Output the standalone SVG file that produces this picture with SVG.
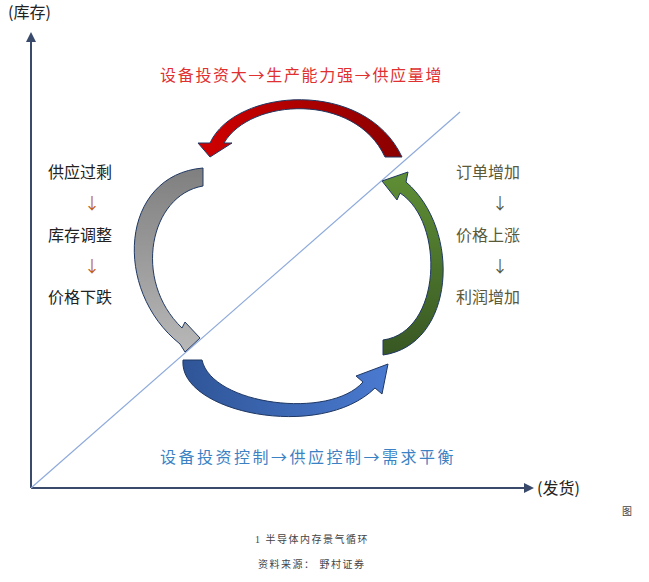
<svg xmlns="http://www.w3.org/2000/svg" width="649" height="582" viewBox="0 0 649 582">
<style>
.t{font-family:"Noto Sans CJK SC","Liberation Sans",sans-serif;font-size:16px}
.s{font-family:"Liberation Serif","Noto Sans CJK SC",serif;font-size:10px;fill:#444;letter-spacing:1.5px}
.arw{stroke:#1f3864;stroke-width:1}
</style>
<defs>
<linearGradient id="gr" x1="1" y1="0" x2="0" y2="0"><stop offset="0" stop-color="#8b0000"/><stop offset="1" stop-color="#d00000"/></linearGradient>
<linearGradient id="gg" x1="0" y1="0" x2="0" y2="1"><stop offset="0" stop-color="#7f7f7f"/><stop offset="1" stop-color="#b8b8b8"/></linearGradient>
<linearGradient id="gb" x1="0" y1="0" x2="1" y2="0"><stop offset="0" stop-color="#2f5597"/><stop offset="1" stop-color="#4a7ad0"/></linearGradient>
<linearGradient id="gn" x1="0" y1="1" x2="0" y2="0"><stop offset="0" stop-color="#385723"/><stop offset="1" stop-color="#5f8f35"/></linearGradient>
<marker id="ah" markerWidth="10" markerHeight="10" refX="8" refY="5" orient="auto" markerUnits="userSpaceOnUse"><path d="M0,0 L10,5 L0,10 Z" fill="#3a4a6b"/></marker>
</defs>
<rect width="649" height="582" fill="#fff"/>
<g id="connectors">
<line x1="31" y1="488" x2="31" y2="34" stroke="#3a4a6b" stroke-width="2" marker-end="url(#ah)"/>
<line x1="31" y1="488" x2="532" y2="488" stroke="#3a4a6b" stroke-width="2" marker-end="url(#ah)"/>
<line x1="31" y1="488" x2="460" y2="112" stroke="#8eaadb" stroke-width="1.2"/>
</g>
<g id="arrow-red"><path class="arw" fill="url(#gr)" d="M402,157 L385,157 C355,92 250,98 224,143 L232,143 L210,157 L198,143 L210,143 C235,88 365,78 402,157 Z"/></g>
<g id="arrow-gray"><path class="arw" fill="url(#gg)" d="M203,168 L203,186 C150,195 132,280 182,328 L185,322 L200,338 L185,352 L180,344 C112,290 120,175 203,168 Z"/></g>
<g id="arrow-blue"><path class="arw" fill="url(#gb)" d="M183,360 L202,360 C212,405 330,420 363,382 L356,376 L388,364 L382,394 L375,388 C320,442 178,412 183,360 Z"/></g>
<g id="arrow-green"><path class="arw" fill="url(#gn)" d="M383,355 L383,340 C442,332 445,222 400,193 L397,200 L382,181 L408,172 L406,182 C462,230 455,345 383,355 Z"/></g>
<g id="label-y"><text class="t" x="8" y="18" fill="#222">(库存)</text></g>
<g id="label-x"><text class="t" x="537" y="494" fill="#222">(发货)</text></g>
<g id="title-top"><text class="t" x="160" y="81" fill="#e03030" letter-spacing="1.7">设备投资大→生产能力强→供应量增</text></g>
<g id="title-bottom"><text class="t" x="160" y="463" fill="#3b82c4" letter-spacing="2.5">设备投资控制→供应控制→需求平衡</text></g>
<g id="left-list" class="t" fill="#222">
<text x="48" y="178">供应过剩</text>
<text x="84" y="209" fill="#c0601a">↓</text>
<text x="48" y="241">库存调整</text>
<text x="84" y="272" fill="#c0601a">↓</text>
<text x="48" y="303">价格下跌</text>
</g>
<g id="right-list" class="t" fill="#5a5a3a">
<text x="456" y="178">订单增加</text>
<text x="492" y="209">↓</text>
<text x="456" y="241">价格上涨</text>
<text x="492" y="272">↓</text>
<text x="456" y="303">利润增加</text>
</g>
<g id="caption">
<text class="s" x="622" y="515">图</text>
<text class="s" x="255" y="543">1 半导体内存景气循环</text>
<text class="s" x="258" y="568">资料来源： 野村证券</text>
</g>
</svg>
